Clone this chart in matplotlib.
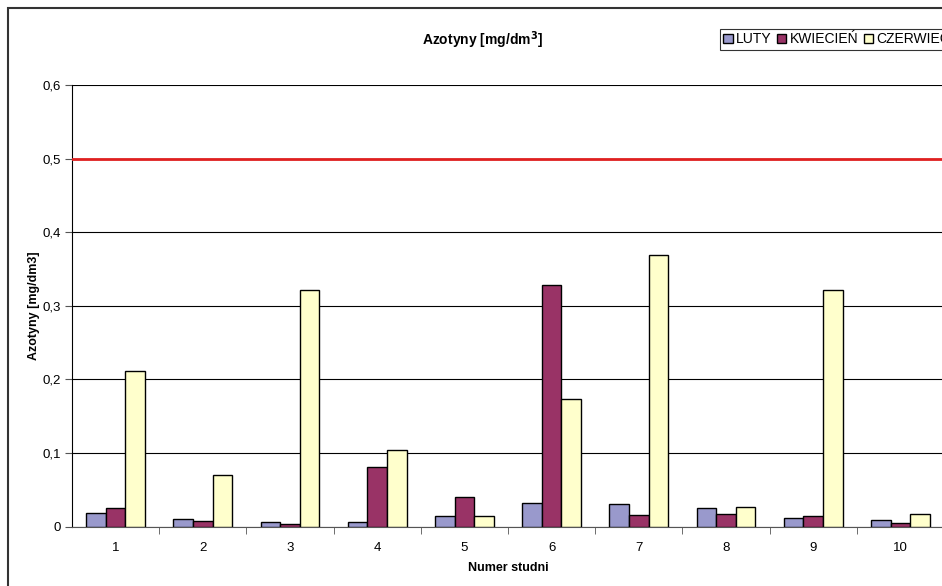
import numpy as np
import matplotlib.pyplot as plt
from matplotlib.patches import Rectangle

plt.rcParams['font.family'] = ['Liberation Sans', 'DejaVu Sans']

studnie = ['1', '2', '3', '4', '5', '6', '7', '8', '9', '10']
luty = [0.018, 0.010, 0.006, 0.007, 0.0146, 0.032, 0.031, 0.0255, 0.0114, 0.0095]
kwiecien = [0.0255, 0.0078, 0.004, 0.081, 0.0405, 0.329, 0.0155, 0.0177, 0.0141, 0.0054]
czerwiec = [0.211, 0.0704, 0.321, 0.1045, 0.0146, 0.174, 0.3685, 0.0273, 0.321, 0.0173]
serie_nazwy = ['LUTY', 'KWIECIEŃ', 'CZERWIEC']
norma = 0.5

kolory = ['#9999CC', '#993366', '#FFFFCC']

W, H = 942, 586
fig = plt.figure(figsize=(W / 100, H / 100), dpi=100)
ax = fig.add_axes([72 / W, (H - 526.7) / H, 872 / W, 441.7 / H])

x = np.arange(1, len(studnie) + 1)
bw = 0.225
for i, (vals, c, name) in enumerate(zip([luty, kwiecien, czerwiec], kolory, serie_nazwy)):
    ax.bar(x + (i - 1) * bw, vals, width=bw, color=c, edgecolor='black',
           linewidth=1.0, label=name, zorder=3)

ax.axhline(norma, color='#E02020', linewidth=2, zorder=4)

ax.set_xlim(0.5, 10.5)
ax.set_ylim(0, 0.6)
ax.set_yticks(np.arange(0, 0.61, 0.1))
ax.set_yticklabels(['0', '0,1', '0,2', '0,3', '0,4', '0,5', '0,6'], fontsize=9.5)
ax.yaxis.grid(True, color='black', linewidth=0.8, zorder=0)
ax.set_axisbelow(True)

ax.set_xticks(x)
ax.set_xticklabels(studnie, fontsize=9.5)
ax.tick_params(axis='x', which='major', length=0, pad=11)
ax.set_xticks(np.arange(1.5, 10.5, 1), minor=True)
ax.tick_params(axis='x', which='minor', length=5, direction='out', color='#555555')
ax.tick_params(axis='y', length=5, direction='out', pad=3, color='#555555')

for s in ['top', 'right']:
    ax.spines[s].set_visible(False)
ax.spines['left'].set_color('black')
ax.spines['bottom'].set_color('#555555')

ax.set_xlabel('Numer studni', fontsize=9, fontweight='bold', labelpad=6)
ax.set_ylabel('Azotyny [mg/dm3]', fontsize=9, fontweight='bold', labelpad=2)

fig.text(482 / W, 1 - 40 / H, 'Azotyny [mg/dm$^{\\mathbf{3}}$]', fontsize=10,
         fontweight='bold', ha='center', va='center')

leg = fig.legend(loc='upper left', bbox_to_anchor=(720 / W, 1 - 29 / H), ncol=3,
                 fontsize=10, frameon=True, fancybox=False, handlelength=0.65,
                 handleheight=0.65, handletextpad=0.25, columnspacing=0.4,
                 borderpad=0.25, borderaxespad=0)
leg.get_frame().set_edgecolor('black')
leg.get_frame().set_linewidth(0.8)

fig.patches.append(Rectangle((8 / W, -0.1), 1.2, 1.1 - 8 / H, transform=fig.transFigure,
                             fill=False, edgecolor='#333333', linewidth=1.5))

fig.savefig('out.png', dpi=100)
